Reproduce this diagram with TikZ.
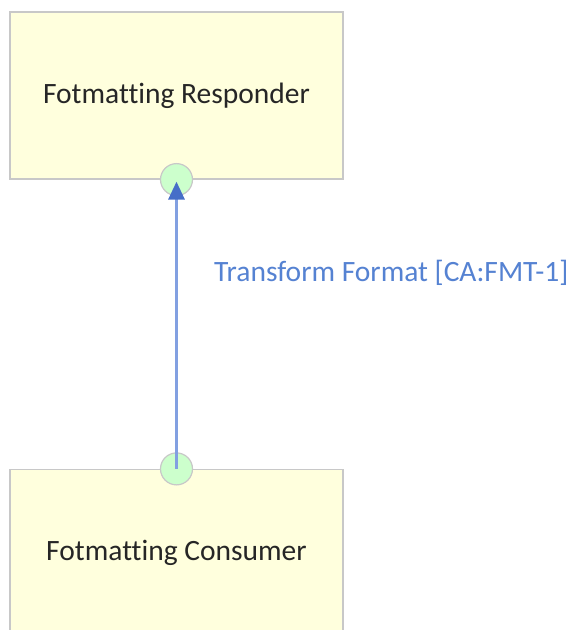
\documentclass[tikz,border=0pt]{standalone}
\usepackage{fontspec}
\setmainfont{Carlito}[Ligatures={NoCommon}]
\usetikzlibrary{arrows.meta}
\definecolor{boxfill}{RGB}{255,255,221}
\definecolor{boxline}{RGB}{200,200,200}
\definecolor{portfill}{RGB}{204,255,204}
\definecolor{linkline}{RGB}{130,160,225}
\definecolor{linkhead}{RGB}{70,110,200}
\definecolor{labelcol}{RGB}{85,130,210}
\tikzset{
  compbox/.style={draw=boxline, line width=1.2pt, fill=boxfill, minimum width=333pt, minimum height=167pt, inner sep=0pt, font=\fontsize{29.5}{33}\selectfont, text=black!85},
  port/.style={circle, draw=boxline, line width=1.2pt, fill=portfill, minimum size=32pt, inner sep=0pt},
  link/.style={draw=linkline, line width=3pt, -{Triangle[length=18pt,width=16pt,color=linkhead]}},
  linklabel/.style={font=\fontsize{29.5}{33}\selectfont, text=labelcol, inner sep=0pt, anchor=west}
}
\begin{document}
\begin{tikzpicture}[x=1pt,y=1pt]
\useasboundingbox (0,0) rectangle (572,630);
\fill[white] (0,0) rectangle (572,630);
\node[compbox] (resp) at (176.5,534.5) {Fotmatting Responder};
\node[compbox] (cons) at (176.5,77) {Fotmatting Consumer};
\node[port] (p1) at (resp.south) {};
\node[port] (p2) at (cons.north) {};
\draw[link] (p2.center) -- ([yshift=-2pt]p1.center);
\node[linklabel] (lbl) at (214,357) {Transform Format [CA:FMT-1]};
\end{tikzpicture}
\end{document}
